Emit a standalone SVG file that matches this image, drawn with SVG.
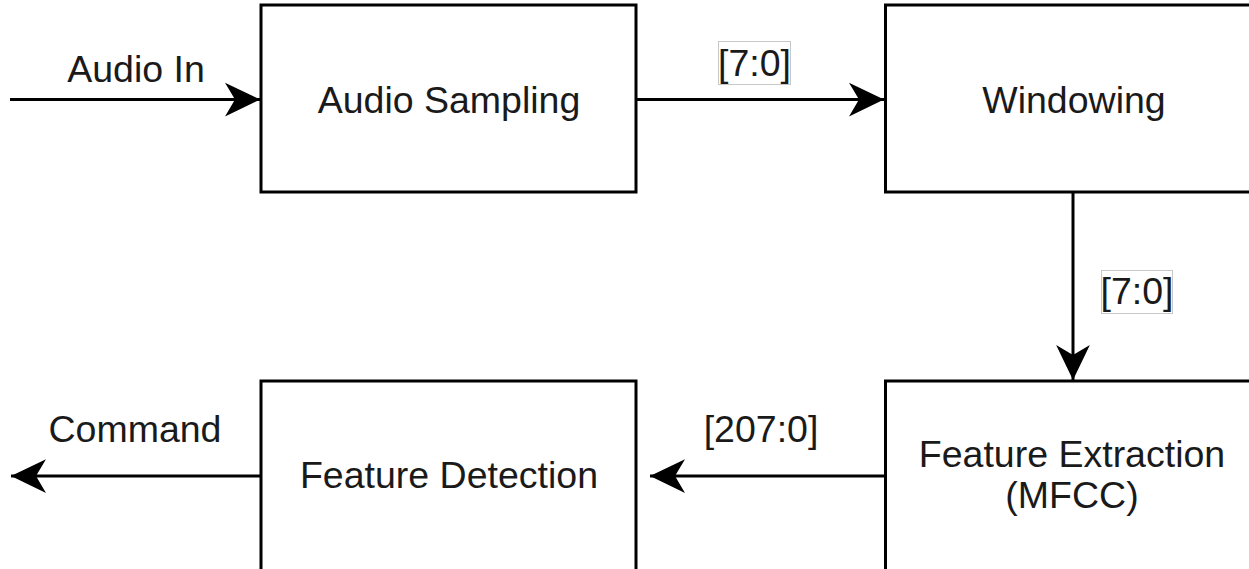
<svg xmlns="http://www.w3.org/2000/svg" width="1249" height="569" viewBox="0 0 1249 569">
<style>
.box{fill:#fff;stroke:#000;stroke-width:3}
.t{font-family:"Liberation Sans",Arial,sans-serif;font-size:37.5px;fill:#1a1a1a;text-anchor:middle}
.edge{stroke:#000;stroke-width:3;fill:none;marker-end:url(#arr)}
.lbl{fill:#fff;stroke:#c8c8c8;stroke-width:1}
</style>
<defs>
<marker id="arr" markerUnits="userSpaceOnUse" orient="auto" markerWidth="40" markerHeight="40" viewBox="-30 -15 32 30" refX="0" refY="0" overflow="visible">
<path d="M0,0 L-28,-13.5 L-20,0 L-28,13.5 Z" fill="#000"/>
</marker>
</defs>
<rect width="1249" height="569" fill="#fff"/>
<g id="audio-sampling"><rect class="box" x="261" y="5" width="375" height="187"/><text class="t" x="449" y="113">Audio Sampling</text></g>
<g id="windowing"><rect class="box" x="885.5" y="5" width="375" height="187"/><text class="t" x="1074" y="113">Windowing</text></g>
<g id="feature-extraction"><rect class="box" x="885.5" y="381" width="375" height="200"/><text class="t" x="1072" y="467">Feature Extraction</text><text class="t" x="1072" y="508">(MFCC)</text></g>
<g id="feature-detection"><rect class="box" x="261" y="381" width="375" height="200"/><text class="t" x="449" y="488">Feature Detection</text></g>
<g id="connectors">
<line class="edge" x1="10" y1="99.5" x2="260" y2="99.5"/>
<text class="t" x="136" y="82">Audio In</text>
<line class="edge" x1="636" y1="99.5" x2="884" y2="99.5"/>
<rect class="lbl" x="718.5" y="41.5" width="72" height="43"/>
<text class="t" x="754.5" y="76">[7:0]</text>
<line class="edge" x1="1073" y1="192" x2="1073" y2="380"/>
<rect class="lbl" x="1101.5" y="270.5" width="71" height="43"/>
<text class="t" x="1137" y="304">[7:0]</text>
<line class="edge" x1="885" y1="476" x2="650" y2="476"/>
<text class="t" x="761" y="442">[207:0]</text>
<line class="edge" x1="261" y1="476" x2="11" y2="476"/>
<text class="t" x="135" y="442">Command</text>
</g>
</svg>
